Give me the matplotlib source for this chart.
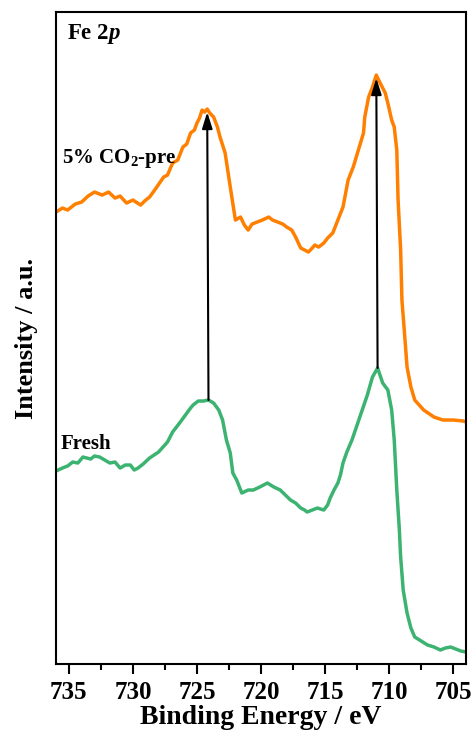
import numpy as np
import matplotlib
matplotlib.use("Agg")
import matplotlib.pyplot as plt

plt.rcParams['font.family'] = ['Liberation Serif', 'DejaVu Serif']
plt.rcParams['font.weight'] = 'bold'
plt.rcParams['mathtext.fontset'] = 'custom'
plt.rcParams['mathtext.rm'] = 'Liberation Serif:bold'
plt.rcParams['mathtext.bf'] = 'Liberation Serif:bold'
plt.rcParams['mathtext.it'] = 'Liberation Serif:italic:bold'

# 5% CO2-pre spectrum
be_pre = [736.0, 735.5, 735.1, 734.5, 734.0, 733.5, 733.0, 732.4, 731.9, 731.4,
          731.0, 730.5, 730.0, 729.4, 729.0, 728.7, 728.3, 727.6, 727.3, 726.9,
          726.5, 726.1, 725.8, 725.5, 725.2, 725.0, 724.8, 724.6, 724.4, 724.2,
          724.0, 723.7, 723.4, 723.2, 722.8, 722.4, 722.0, 721.6, 721.3, 721.0,
          720.7, 720.3, 719.9, 719.4, 719.1, 718.7, 718.3, 718.0, 717.6, 717.3,
          716.9, 716.6, 716.3, 716.0, 715.8, 715.5, 715.1, 714.8, 714.4, 714.0,
          713.6, 713.2, 712.8, 712.4, 712.0, 711.9, 711.6, 711.3, 711.0, 710.7,
          710.3, 710.1, 709.8, 709.6, 709.4, 709.3, 709.1, 709.0, 708.8, 708.6,
          708.3, 708.0, 707.3, 706.5, 705.8, 705.0, 704.2, 704.0]
int_pre = [452, 456, 454, 460, 462, 468, 472, 469, 472, 466,
           468, 461, 464, 459, 464, 467, 474, 487, 489, 501,
           504, 517, 520, 531, 534, 541, 546, 554, 552, 555,
           551, 547, 537, 527, 511, 477, 444, 447, 439, 434,
           440, 442, 444, 447, 444, 442, 440, 437, 434, 427,
           416, 414, 412, 416, 419, 417, 421, 426, 431, 444,
           457, 484, 497, 514, 531, 547, 567, 577, 589, 581,
           571, 561, 544, 537, 514, 464, 414, 364, 331, 297,
           277, 264, 254, 247, 244, 244, 243, 242]

# Fresh spectrum
be_fresh = [736.0, 735.5, 735.1, 734.7, 734.3, 733.9, 733.3, 733.0, 732.6, 732.2,
            731.8, 731.4, 731.0, 730.6, 730.2, 729.9, 729.6, 729.2, 728.7, 728.0,
            727.3, 726.9, 726.3, 725.9, 725.5, 725.3, 724.9, 724.5, 724.1, 723.7,
            723.3, 723.0, 722.7, 722.4, 722.2, 721.9, 721.5, 721.0, 720.6, 720.1,
            719.5, 719.0, 718.5, 718.1, 717.7, 717.3, 716.9, 716.6, 716.4, 716.0,
            715.6, 715.1, 714.8, 714.6, 714.3, 714.0, 713.8, 713.6, 713.3, 712.9,
            712.5, 712.1, 711.7, 711.3, 710.9, 710.5, 710.1, 709.8, 709.6, 709.4,
            709.2, 709.1, 708.9, 708.6, 708.3, 708.0, 707.5, 707.0, 706.5, 706.0,
            705.6, 705.2, 704.8, 704.4, 704.0]
int_fresh = [193, 196, 198, 202, 201, 207, 205, 208, 207, 204,
             201, 202, 196, 199, 199, 194, 196, 200, 206, 212,
             222, 232, 242, 249, 256, 259, 263, 263, 264, 261,
             254, 244, 224, 211, 191, 184, 171, 174, 174, 177,
             181, 177, 174, 169, 164, 161, 156, 154, 152, 154,
             156, 154, 159, 166, 174, 181, 189, 201, 212, 224,
             239, 254, 269, 287, 296, 281, 274, 254, 224, 174,
             134, 107, 74, 51, 36, 27, 23, 19, 17, 14,
             16, 17, 15, 13, 12]

fig = plt.figure(figsize=(4.75, 7.4), dpi=100)
ax = fig.add_axes([0.118, 0.1027, 0.863, 0.881])

ax.plot(be_pre, int_pre, color='#ff7f00', lw=2.5)
ax.plot(be_fresh, int_fresh, color='#3cb371', lw=2.5)

# arrows from Fresh peaks to CO2-pre peaks
be_pre_a, int_pre_a = np.array(be_pre), np.array(int_pre)
be_fr_a, int_fr_a = np.array(be_fresh), np.array(int_fresh)
for lo, hi in [(720, 730), (708, 714)]:
    mp = (be_pre_a > lo) & (be_pre_a < hi)
    mf = (be_fr_a > lo) & (be_fr_a < hi)
    ip = np.argmax(int_pre_a[mp])
    jf = np.argmax(int_fr_a[mf])
    ax.annotate('', xy=(be_pre_a[mp][ip], int_pre_a[mp][ip] - 3),
                xytext=(be_fr_a[mf][jf], int_fr_a[mf][jf]),
                arrowprops=dict(arrowstyle='-|>,head_length=0.7,head_width=0.22',
                                color='black', lw=1.5,
                                mutation_scale=14, shrinkA=0, shrinkB=0))

ax.set_xlim(736, 704)
ax.set_ylim(0, 652)
ax.set_xticks([735, 730, 725, 720, 715, 710, 705])
ax.set_xticks(np.arange(732.5, 704, -5), minor=True)
ax.set_yticks([])
ax.tick_params(axis='x', which='major', direction='out', length=7, width=1.5,
               labelsize=18, pad=5)
ax.tick_params(axis='x', which='minor', direction='out', length=4, width=1.5)
for lab in ax.get_xticklabels():
    lab.set_fontweight('bold')
for sp in ax.spines.values():
    sp.set_linewidth(1.5)

ax.set_xlabel('Binding Energy / eV', fontsize=20, fontweight='bold', labelpad=1)
ax.set_ylabel('Intensity / a.u.', fontsize=19, fontweight='bold', labelpad=13)

ax.text(0.027, 0.966, r'Fe 2$p$', transform=ax.transAxes, fontsize=16.5,
        fontweight='bold', va='center', ha='left')
ax.text(0.014, 0.776, r'5% CO$_2$-pre', transform=ax.transAxes, fontsize=15,
        fontweight='bold', va='center', ha='left')
ax.text(0.01, 0.337, 'Fresh', transform=ax.transAxes, fontsize=15,
        fontweight='bold', va='center', ha='left')

fig.savefig('out.png', dpi=100)
